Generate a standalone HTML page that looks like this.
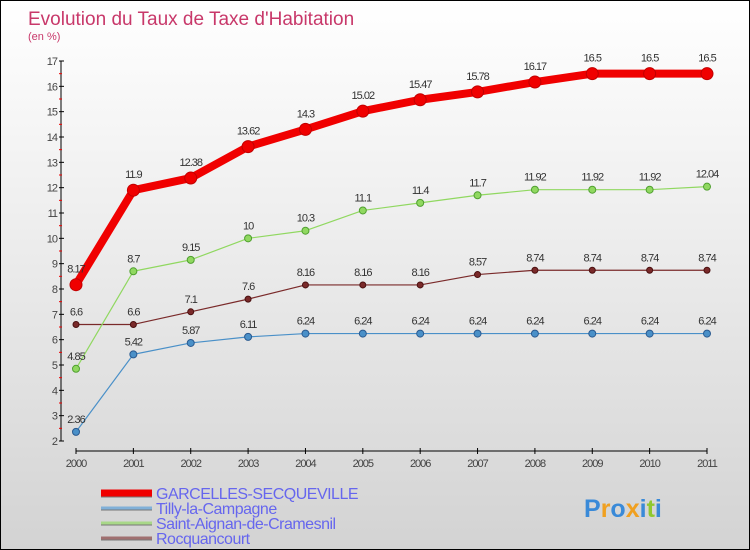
<!DOCTYPE html>
<html><head><meta charset="utf-8"><style>
body{margin:0}
#c{width:750px;height:550px;position:relative;box-sizing:border-box;border:1px solid #000;background:linear-gradient(#fff 0%,#ececec 45%,#d3d3d3 100%);font-family:"Liberation Sans",sans-serif;overflow:hidden}
</style></head><body>
<div id="c">
<svg id="s" width="750" height="550" style="position:absolute;left:0;top:0"></svg>
</div>
<script>
const years=["2000","2001","2002","2003","2004","2005","2006","2007","2008","2009","2010","2011"];
const garcelles=[8.17,11.9,12.38,13.62,14.3,15.02,15.47,15.78,16.17,16.5,16.5,16.5];
const tilly=[2.36,5.42,5.87,6.11,6.24,6.24,6.24,6.24,6.24,6.24,6.24,6.24];
const saint=[4.85,8.7,9.15,10,10.3,11.1,11.4,11.7,11.92,11.92,11.92,12.04];
const rocq=[6.6,6.6,7.1,7.6,8.16,8.16,8.16,8.57,8.74,8.74,8.74,8.74];
const yTicks=[2,3,4,5,6,7,8,9,10,11,12,13,14,15,16,17];
const names=["GARCELLES-SECQUEVILLE","Tilly-la-Campagne","Saint-Aignan-de-Cramesnil","Rocquancourt"];
const NS="http://www.w3.org/2000/svg";
const svg=document.getElementById('s');
const x=i=>75+i*(706-75)/(years.length-1);
const y=v=>440-(v-2)*(380/15);
function el(t,a,p){const e=document.createElementNS(NS,t);for(const k in a)e.setAttribute(k,a[k]);(p||svg).appendChild(e);return e;}
function txt(s,a){const e=el('text',a);e.textContent=s;return e;}
let t=txt("Evolution du Taux de Taxe d'Habitation",{x:27,y:24,fill:'#c8386a','font-size':19});

t=txt("(en %)",{x:27,y:39,fill:'#c8386a','font-size':11});

let ax=el('line',{x1:60,y1:60,x2:60,y2:440,stroke:'#000','stroke-width':1});

yTicks.forEach((v,i)=>{
 el('line',{x1:58,y1:y(v),x2:63,y2:y(v),stroke:'#000'});
 if(i<yTicks.length-1)el('line',{x1:58,y1:y(v+0.5),x2:61,y2:y(v+0.5),stroke:'#e00'});
 const l=txt(String(v),{x:56,y:y(v)+4,'text-anchor':'end','font-size':11,fill:'#444','letter-spacing':'-1'});
 
});
ax=el('line',{x1:75,y1:450,x2:706,y2:450,stroke:'#000'});

years.forEach((yr,i)=>{
 el('line',{x1:x(i),y1:447,x2:x(i),y2:453,stroke:'#000'});
 const l=txt(yr,{x:x(i),y:466,'text-anchor':'middle','font-size':11,fill:'#444','letter-spacing':'-1'});
 
});
function series(d,col,dark,w,r,name,labOff){
 const g=el('g',{});
 
 el('polyline',{points:d.map((v,i)=>x(i)+','+y(v)).join(' '),fill:'none',stroke:col,'stroke-width':w,'stroke-linejoin':'round'},g);
 d.forEach((v,i)=>{
  const c=el('circle',{cx:x(i),cy:y(v),r:r,fill:col,stroke:dark,'stroke-width':1},g);
  
  const l=txt(String(v),{x:x(i),y:y(v)-labOff,'text-anchor':'middle','font-size':11,fill:'#333','letter-spacing':'-1'});
  
 });
}
series(rocq,'#7a2a2a','#4a1010',1.2,3,'series-rocquancourt',9);
series(tilly,'#4a90c8','#2a5a90',1.2,3.5,'series-tilly',9);
series(saint,'#90d860','#50a030',1.2,3.5,'series-saint-aignan',9);
series(garcelles,'#f00000','#c00000',8,6,'series-garcelles',12);
const lc=['#f00000','#80b0d8','#a8d888','#a07070'],lw=[7,3,3,3];
names.forEach((n,i)=>{
 const yy=492+i*15;
 const g=el('g',{});
 el('line',{x1:100,y1:yy+1,x2:151,y2:yy+1,stroke:'#777','stroke-width':lw[i]},g);
 el('line',{x1:100,y1:yy,x2:151,y2:yy,stroke:lc[i],'stroke-width':lw[i]},g);
 const l=el('text',{x:155,y:yy+6,'font-size':16,fill:'#6666ee','letter-spacing':'-0.5'},g);l.textContent=n;
});
const p=el('text',{x:583,y:516,'font-size':25,'font-weight':'bold'});

[['P','#3a8ad8'],['r','#f0a020'],['o','#3a8ad8'],['x','#f0a020'],['i','#3a8ad8'],['t','#90c830'],['i','#3a8ad8']].forEach(([c,f])=>{const s=el('tspan',{fill:f},p);s.textContent=c;});
</script>
</body></html>
